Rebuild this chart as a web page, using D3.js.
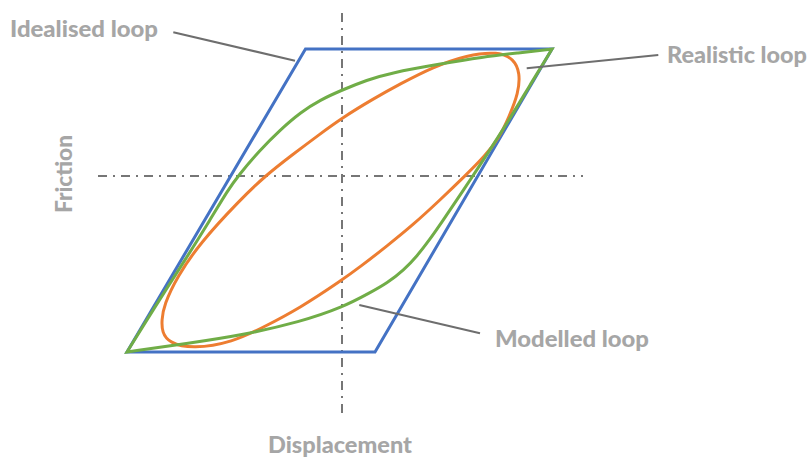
<!DOCTYPE html>
<html>
<head>
<meta charset="utf-8">
<script src="https://cdn.jsdelivr.net/npm/d3@7"></script>
<style>
  html, body { margin: 0; padding: 0; background: #ffffff; }
  svg { display: block; }
  .label { font-family: Lato, "Open Sans", sans-serif; font-weight: 900; fill: #a6a6a6; }
</style>
</head>
<body>
<svg id="chart" width="809" height="457"></svg>
<script>
// Idealised friction loop: corners (displacement, friction)
const idealisedLoop = [[-21.5, -17.6], [3.3, -17.6], [21.0, 12.7], [-3.65, 12.7]];

// Modelled loop: loading branch and unloading branch
const modelledRising = [
  [-21.5, -17.6], [-18.9, -13.4], [-15.5, -8.1], [-13.2, -4.4], [-11.4, -1.4],
  [-10.4, 0], [-8.2, 2.6], [-6.2, 4.6], [-4.1, 6.4], [-2.2, 7.6], [0, 8.6],
  [2.5, 9.6], [4.8, 10.3], [9.8, 11.2], [14.1, 11.9], [17.5, 12.3], [21.0, 12.7]
];
const modelledFalling = [
  [21.0, 12.7], [18.74, 9.0], [16.65, 5.5], [14.46, 2.1], [13.08, 0], [11.48, -2.4],
  [9.99, -4.6], [8.74, -6.4], [7.51, -8.0], [6.19, -9.4], [4.53, -10.7], [2.75, -11.7],
  [0.13, -13.1], [-4.2, -14.6], [-9.9, -15.9], [-15.5, -16.75], [-21.5, -17.6]
];

// Realistic (measured) loop, closed
const realisticLoop = [
  [-18.03, -14.4], [-17.8, -12.9], [-16.5, -10.1], [-14.2, -6.7], [-10.2, -2.4],
  [-7.7, 0], [-5.0, 2.1], [-2.2, 4.2], [0, 5.8], [3.1, 7.7], [5.8, 9.2],
  [9.1, 10.9], [12.5, 12.1], [15.6, 12.45], [17.2, 11.7], [17.8, 10.3],
  [17.65, 8.3], [16.7, 5.9], [15.7, 3.8], [14.3, 2.0], [12.3, 0], [9.8, -2.4],
  [7.2, -4.8], [4.5, -7.0], [1.8, -9.1], [0, -10.4], [-4.2, -13.2],
  [-8.0, -15.2], [-10.9, -16.6], [-14.9, -17.3], [-17.3, -16.7], [-18.0, -15.6]
];

// Extents of the two reference axes
const displacementExtent = [-24.4, 24.1];
const frictionExtent = [-24.2, 16.3];

// Callouts: text, point on the curve, end of the leader line
const callouts = [
  { text: "Idealised loop", from: [-4.7, 11.53], to: [-16.87, 14.37] },
  { text: "Realistic loop", from: [18.47, 10.77], to: [31.63, 12.1] },
  { text: "Modelled loop", from: [1.73, -12.9], to: [13.8, -15.73] }
];

const svg = d3.select("#chart");

const x = d3.scaleLinear().domain([-25, 25]).range([92, 592]);
const y = d3.scaleLinear().domain([-17, 17]).range([346, 6]);

// Dash-dot reference axes through the origin
const axisG = svg.append("g")
  .attr("stroke", "#767676")
  .attr("stroke-width", 2)
  .attr("stroke-dasharray", "9,6,2,6");
axisG.append("line")
  .attr("x1", x(displacementExtent[0])).attr("x2", x(displacementExtent[1]))
  .attr("y1", y(0)).attr("y2", y(0));
axisG.append("line")
  .attr("x1", x(0)).attr("x2", x(0))
  .attr("y1", y(frictionExtent[1])).attr("y2", y(frictionExtent[0]));

// Idealised loop
svg.append("path")
  .datum(idealisedLoop)
  .attr("fill", "none")
  .attr("stroke", "#4472c4")
  .attr("stroke-width", 3)
  .attr("stroke-linejoin", "miter")
  .attr("d", d3.line().x(d => x(d[0])).y(d => y(d[1])).curve(d3.curveLinearClosed));

// Realistic loop (smoothed closed spline)
svg.append("path")
  .datum(realisticLoop)
  .attr("fill", "none")
  .attr("stroke", "#ed7d31")
  .attr("stroke-width", 3)
  .attr("d", d3.line().x(d => x(d[0])).y(d => y(d[1])).curve(d3.curveBasisClosed));

// Modelled loop: two smooth branches joined with sharp corners
const branch = d3.line().x(d => x(d[0])).y(d => y(d[1])).curve(d3.curveBasis);
const fallingPath = branch(modelledFalling).replace(/^M[^A-Za-z]*/, "");
svg.append("path")
  .attr("fill", "none")
  .attr("stroke", "#70ad47")
  .attr("stroke-width", 3)
  .attr("stroke-linejoin", "miter")
  .attr("d", branch(modelledRising) + fallingPath + "Z");

// Leader lines
svg.append("g")
  .selectAll("line")
  .data(callouts)
  .join("line")
  .attr("stroke", "#6e6e6e")
  .attr("stroke-width", 2)
  .attr("x1", d => x(d.from[0])).attr("y1", d => y(d.from[1]))
  .attr("x2", d => x(d.to[0])).attr("y2", d => y(d.to[1]));

// Text placement
const labelLayout = [
  { x: 10, y: 37, w: 148 },
  { x: 667, y: 63, w: 140 },
  { x: 495, y: 346.5, w: 154 }
];
svg.append("g")
  .selectAll("text")
  .data(callouts)
  .join("text")
  .attr("class", "label")
  .attr("font-size", 23)
  .attr("x", (d, i) => labelLayout[i].x)
  .attr("y", (d, i) => labelLayout[i].y)
  .attr("textLength", (d, i) => labelLayout[i].w)
  .attr("lengthAdjust", "spacingAndGlyphs")
  .text(d => d.text);

// Axis titles
svg.append("text")
  .attr("class", "label")
  .attr("font-size", 23)
  .attr("x", 268).attr("y", 453)
  .attr("textLength", 144)
  .attr("lengthAdjust", "spacingAndGlyphs")
  .text("Displacement");

svg.append("text")
  .attr("class", "label")
  .attr("font-size", 23)
  .attr("transform", "translate(72,213) rotate(-90)")
  .attr("textLength", 78)
  .attr("lengthAdjust", "spacingAndGlyphs")
  .text("Friction");
</script>
</body>
</html>
